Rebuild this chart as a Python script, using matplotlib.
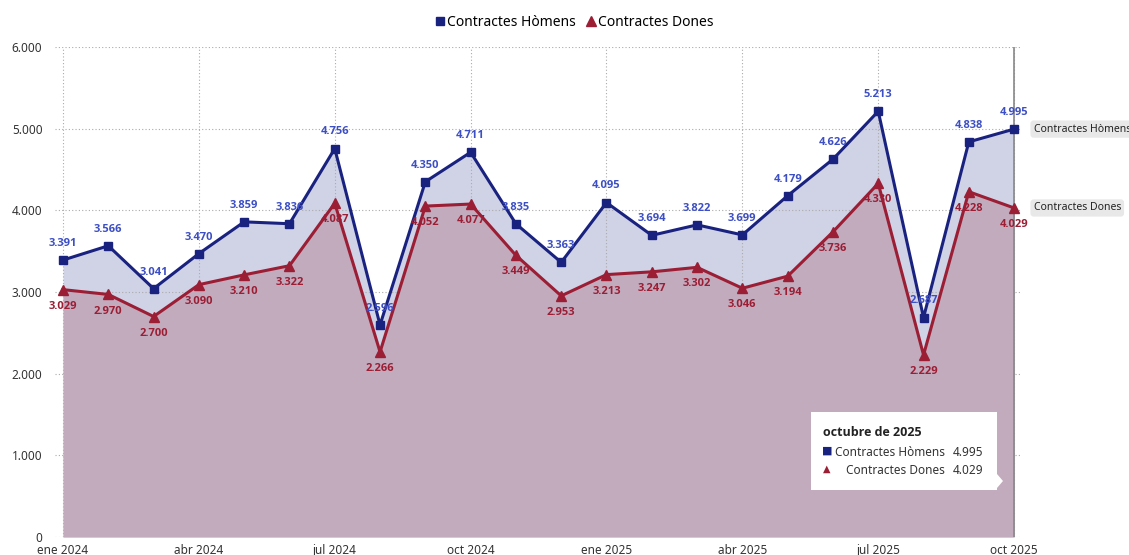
import matplotlib
matplotlib.use("Agg")
import matplotlib.pyplot as plt
from matplotlib.lines import Line2D
from matplotlib.patches import Rectangle, Polygon
from matplotlib.ticker import FuncFormatter, FixedLocator

plt.rcParams['font.family'] = ['Noto Sans', 'DejaVu Sans']
BOLD_FAM = ['Open Sans', 'DejaVu Sans']

months = ["ene 2024", "feb 2024", "mar 2024", "abr 2024", "may 2024", "jun 2024",
          "jul 2024", "ago 2024", "sep 2024", "oct 2024", "nov 2024", "dic 2024",
          "ene 2025", "feb 2025", "mar 2025", "abr 2025", "may 2025", "jun 2025",
          "jul 2025", "ago 2025", "sep 2025", "oct 2025"]
homens = [3391, 3566, 3041, 3470, 3859, 3836, 4756, 2596, 4350, 4711, 3835, 3363,
          4095, 3694, 3822, 3699, 4179, 4626, 5213, 2687, 4838, 4995]
dones = [3029, 2970, 2700, 3090, 3210, 3322, 4087, 2266, 4052, 4077, 3449, 2953,
         3213, 3247, 3302, 3046, 3194, 3736, 4330, 2229, 4228, 4029]
tick_labels = ["ene 2024", "abr 2024", "jul 2024", "oct 2024",
               "ene 2025", "abr 2025", "jul 2025", "oct 2025"]
series_names = ["Contractes Hòmens", "Contractes Dones"]

c_h = "#1a2280"
c_d = "#9b1e35"
c_h_lab = "#3d4fc4"
c_d_lab = "#9b1e35"
fill_h = "#d0d3e6"
fill_d = "#c2abbd"

def fmt(v):
    return f"{int(v):,}".replace(",", ".")

fig = plt.figure(figsize=(11.29, 5.55), dpi=100)
W, H = 1129, 555
ax = fig.add_axes([55 / W, 1 - 537 / H, (1020 - 55) / W, (537 - 47) / H])

x = list(range(len(months)))
ax.fill_between(x, 0, homens, color=fill_h, lw=0, zorder=1)
ax.fill_between(x, 0, dones, color=fill_d, lw=0, zorder=2)
ax.plot(x, homens, color=c_h, lw=2.2, marker='s', ms=6, zorder=5)
ax.plot(x, dones, color=c_d, lw=2.2, marker='^', ms=7, zorder=5)

for xi, v in zip(x, homens):
    ax.annotate(fmt(v), (xi, v), xytext=(0, 8), textcoords='offset points',
                ha='center', va='bottom', fontsize=8, fontweight='bold',
                family=BOLD_FAM, color=c_h_lab, zorder=6)
for xi, v in zip(x, dones):
    ax.annotate(fmt(v), (xi, v), xytext=(0, -8), textcoords='offset points',
                ha='center', va='top', fontsize=8, fontweight='bold',
                family=BOLD_FAM, color=c_d_lab, zorder=6)

ax.set_xlim(-0.177, 21.13)
ax.set_ylim(0, 6000)
ax.yaxis.set_major_locator(FixedLocator([0, 1000, 2000, 3000, 4000, 5000, 6000]))
ax.yaxis.set_major_formatter(FuncFormatter(lambda v, p: fmt(v)))
tick_pos = [months.index(t) for t in tick_labels]
ax.set_xticks(tick_pos)
ax.set_xticklabels(tick_labels)
ax.tick_params(axis='both', length=0, labelsize=8.5, colors='#333333')
ax.tick_params(axis='x', pad=5)
ax.tick_params(axis='y', pad=9)
for s in ax.spines.values():
    s.set_visible(False)
ax.grid(True, color='#aaaaaa', ls=(0, (1, 2)), lw=0.8)
for gl in ax.get_xgridlines() + ax.get_ygridlines():
    gl.set_zorder(3)

# crosshair line
ax.axvline(21, color='#888888', lw=1.2, zorder=4)

# right-side series labels
for name, v in [(series_names[0], homens[-1]), (series_names[1], dones[-1])]:
    ax.annotate(name, (21, v), xytext=(14, 0), textcoords='offset points',
                ha='left', va='center', fontsize=7.5, color='#222222',
                annotation_clip=False,
                bbox=dict(boxstyle='round,pad=0.3,rounding_size=0.3',
                          fc='#e8e8e8', ec='none'))

# legend
handles = [Line2D([], [], color=c_h, marker='s', ls='none', ms=6),
           Line2D([], [], color=c_d, marker='^', ls='none', ms=7)]
fig.legend(handles, series_names, loc='center', bbox_to_anchor=(573 / W, 1 - 22 / H),
           ncol=2, frameon=False, fontsize=10, handletextpad=0.0,
           columnspacing=0.6, handlelength=1.0)

# tooltip
tx0, ty0, tx1, ty1 = 811, 412, 997, 490
fig.patches.append(Rectangle((tx0 / W, 1 - ty1 / H), (tx1 - tx0) / W, (ty1 - ty0) / H,
                             transform=fig.transFigure, fc='white', ec='none', zorder=10))
fig.patches.append(Polygon([(997 / W, 1 - 474 / H), (1003 / W, 1 - 481 / H), (997 / W, 1 - 488 / H)],
                           closed=True, transform=fig.transFigure, fc='white', ec='none', zorder=10))
fig.text(823 / W, 1 - 433 / H, "octubre de 2025", fontsize=9, fontweight='bold',
         family=BOLD_FAM, color='#222222', va='center', ha='left', zorder=11)
fig.text(827 / W, 1 - 451 / H, "■", fontsize=8, color=c_h, va='center', ha='center',
         family='DejaVu Sans', zorder=11)
fig.text(827 / W, 1 - 469 / H, "▲", fontsize=7, color=c_d, va='center', ha='center',
         family='DejaVu Sans', zorder=11)
fig.text(945 / W, 1 - 453 / H, series_names[0], fontsize=8.5, color='#333333',
         va='center', ha='right', zorder=11)
fig.text(945 / W, 1 - 471 / H, series_names[1], fontsize=8.5, color='#333333',
         va='center', ha='right', zorder=11)
fig.text(953 / W, 1 - 453 / H, fmt(homens[-1]), fontsize=8.5, color='#333333',
         va='center', ha='left', zorder=11)
fig.text(953 / W, 1 - 471 / H, fmt(dones[-1]), fontsize=8.5, color='#333333',
         va='center', ha='left', zorder=11)

fig.savefig("out.png", dpi=100)
